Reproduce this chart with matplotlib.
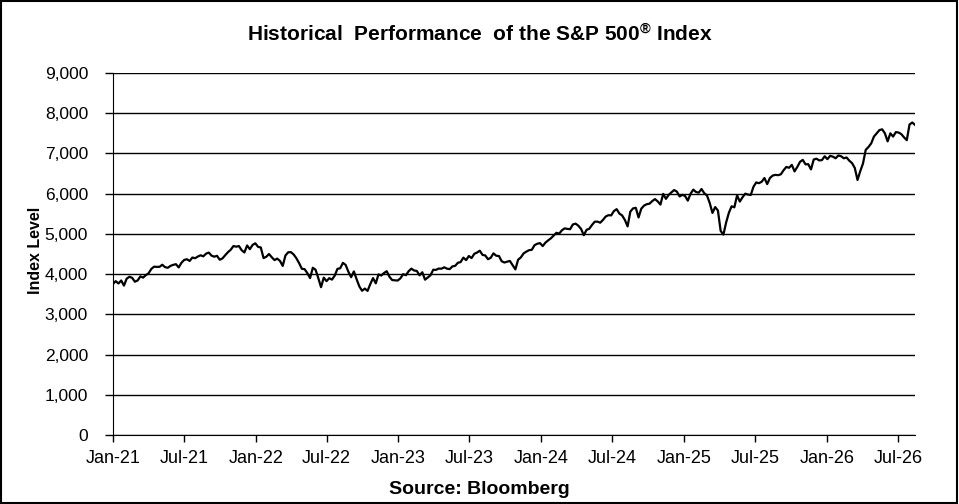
import numpy as np
import pandas as pd
import matplotlib
matplotlib.use("Agg")
import matplotlib.pyplot as plt
import matplotlib.dates as mdates
from matplotlib.patches import Rectangle
from matplotlib.ticker import FuncFormatter, MultipleLocator

plt.rcParams['font.family'] = ['Liberation Sans', 'DejaVu Sans']
plt.rcParams['mathtext.fontset'] = 'custom'
plt.rcParams['mathtext.rm'] = 'Liberation Sans:bold'
plt.rcParams['mathtext.it'] = 'Liberation Sans:bold'
plt.rcParams['mathtext.default'] = 'rm'

# weekly closes (Fridays)
w2021 = [3756, 3825, 3768, 3841, 3714, 3887, 3934, 3907, 3811, 3842, 3943, 3913, 3975,
         4020, 4129, 4185, 4180, 4181, 4233, 4174, 4156, 4204, 4230, 4247, 4166, 4281,
         4352, 4370, 4327, 4412, 4395, 4437, 4468, 4442, 4509, 4535, 4459, 4433, 4455,
         4357, 4391, 4471, 4545, 4605, 4698, 4682, 4698, 4595, 4538, 4712, 4620, 4726, 4766]
w2022 = [4677, 4662, 4398, 4432, 4500, 4419, 4349, 4385, 4329, 4204, 4463, 4543,
         4546, 4488, 4393, 4272, 4132, 4123, 4024, 3901, 4158, 4109, 3901, 3675, 3912,
         3825, 3899, 3863, 3962, 4130, 4145, 4280, 4228, 4058, 3924, 4067, 3873, 3693, 3586,
         3640, 3583, 3752, 3901, 3771, 3993, 3965, 4026, 4072, 3934, 3852, 3845, 3840]
w2023 = [3895, 3999, 3973, 4071, 4136, 4090, 4079, 3970, 4046, 3862, 3917, 3971, 4109,
         4105, 4138, 4134, 4169, 4136, 4124, 4192, 4205, 4282, 4299, 4410, 4348, 4450,
         4399, 4505, 4536, 4582, 4478, 4464, 4370, 4406, 4516, 4457, 4450, 4320, 4288,
         4309, 4327, 4224, 4117, 4358, 4415, 4514, 4559, 4595, 4604, 4719, 4755, 4770]
w2024 = [4697, 4784, 4840, 4891, 4959, 5027, 5006, 5089, 5137, 5124, 5117, 5234, 5254,
         5204, 5123, 4967, 5100, 5128, 5223, 5303, 5305, 5278, 5347, 5432, 5465, 5460,
         5567, 5615, 5505, 5459, 5347, 5186, 5554, 5634, 5648, 5408, 5626, 5703, 5738,
         5751, 5815, 5865, 5808, 5729, 5995, 5871, 5969, 6032, 6090, 6051, 5931, 5971]
w2025 = [5942, 5827, 5997, 6101, 6041, 6026, 6115, 6013, 5955, 5770, 5521, 5667, 5581,
         5074, 4982, 5283, 5525, 5686, 5660, 5958, 5803, 5912, 6000, 5977, 5968, 6173,
         6279, 6260, 6297, 6389, 6238, 6389, 6450, 6467, 6460, 6482, 6584, 6664, 6644,
         6716, 6553, 6664, 6792, 6840, 6729, 6734, 6603, 6849, 6870, 6827, 6834, 6930]
w2026 = [6858, 6940, 6920, 6880, 6950, 6930, 6880, 6900, 6820, 6760, 6640, 6340, 6560,
         6750, 7090, 7160, 7250, 7420, 7500, 7580, 7600, 7500, 7300, 7500, 7420, 7530,
         7520, 7480, 7400, 7330, 7720, 7770, 7710]

values = w2021 + w2022 + w2023 + w2024 + w2025 + w2026
dates = pd.date_range("2021-01-01", periods=len(values), freq="W-FRI")

tick_dates = pd.date_range("2021-01-01", "2026-07-01", freq="6MS")

fig = plt.figure(figsize=(9.59, 5.04), dpi=100)
ax = fig.add_axes([113/959, 69/504, 802/959, 362/504])

ax.plot(dates, values, color="black", lw=1.6)

ax.set_ylim(0, 9000)
ax.set_xlim(pd.Timestamp("2021-01-01"), dates[-1])
ax.yaxis.set_major_locator(MultipleLocator(1000))
ax.yaxis.set_major_formatter(FuncFormatter(lambda v, p: f"{int(v):,}"))
ax.set_xticks(tick_dates)
ax.xaxis.set_major_formatter(mdates.DateFormatter("%b-%y"))
ax.grid(axis="y", color="black", lw=1)
ax.set_axisbelow(True)
for s in ["top", "right"]:
    ax.spines[s].set_visible(False)
ax.tick_params(axis="both", direction="out", length=5, width=1, colors="black")
ax.tick_params(axis="x", pad=6, labelsize=13)
ax.tick_params(axis="y", length=6, pad=12, labelsize=12.5)

fig.text(0.5, 1 - 35/504, "Historical  Performance  of the S&P 500$^{®}$ Index",
         ha="center", va="center", fontsize=15, fontweight="bold")
fig.text(35/959, 254/504, "Index Level", rotation=90, ha="center", va="center",
         fontsize=11.5, fontweight="bold")
fig.text(0.5, 1 - 489/504, "Source: Bloomberg", ha="center", va="center",
         fontsize=14, fontweight="bold")

fig.patches.append(Rectangle((0.001, 0.002), 0.997, 0.996, transform=fig.transFigure,
                             fill=False, edgecolor="black", lw=1.5))

fig.savefig("out.png", dpi=100)
